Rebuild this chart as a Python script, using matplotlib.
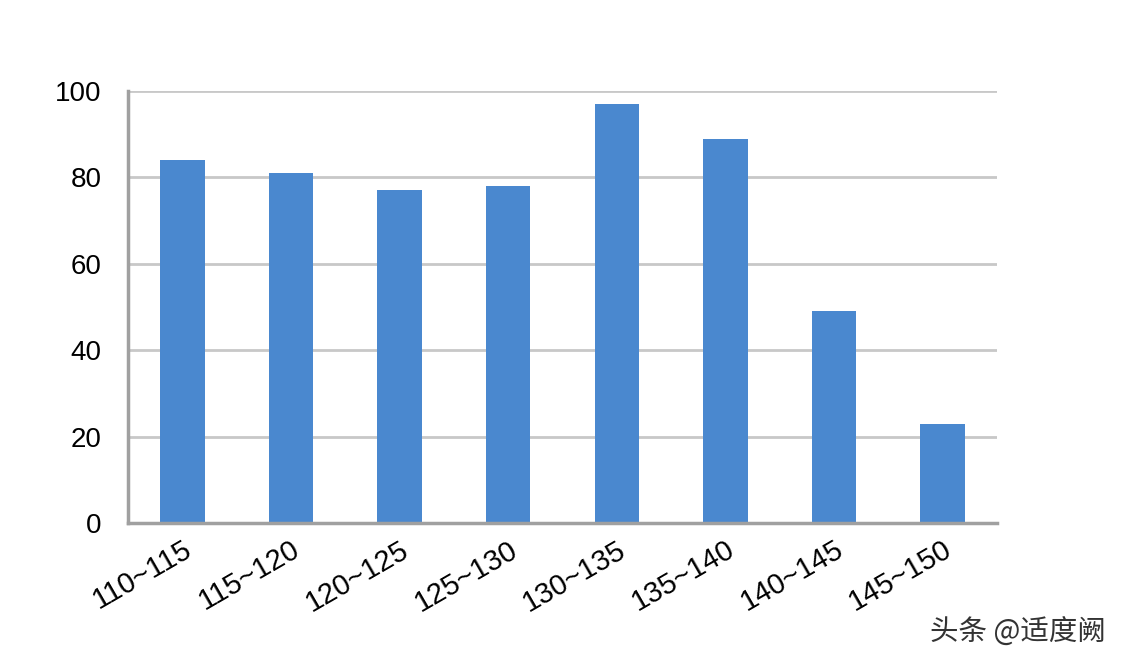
import matplotlib.pyplot as plt

categories = ['110~115', '115~120', '120~125', '125~130',
              '130~135', '135~140', '140~145', '145~150']
values = [84, 81, 77, 78, 97, 89, 49, 23]
yticks = [0, 20, 40, 60, 80, 100]

plt.rcParams['font.family'] = ['Liberation Sans', 'DejaVu Sans']

fig = plt.figure(figsize=(11.25, 6.68), dpi=100)
ax = fig.add_axes([0.1138, 0.2171, 0.7724, 0.6467])

x = list(range(len(categories)))
ax.bar(x, values, width=0.41, color='#4a88cf', zorder=3)

ax.set_xlim(-0.5, len(categories) - 0.5)
ax.set_ylim(0, 100)
ax.set_yticks(yticks)
ax.set_yticklabels([str(v) for v in yticks], fontsize=20)
ax.yaxis.grid(True, color='#c8c8c8', linewidth=2, zorder=0)
ax.tick_params(axis='y', length=0, pad=19)
ax.tick_params(axis='x', length=0, pad=9)

ax.set_xticks(x)
ax.set_xticklabels(categories, fontsize=21, rotation=30, ha='right',
                   rotation_mode='anchor')

for s in ['top', 'right']:
    ax.spines[s].set_visible(False)
for s in ['left', 'bottom']:
    ax.spines[s].set_color('#a0a0a0')
    ax.spines[s].set_linewidth(2.5)
    ax.spines[s].set_zorder(4)

fig.text(0.983, 0.052, '头条 @适度阙', fontsize=20.5, color='#333333',
         ha='right', va='center',
         family=['Noto Sans CJK SC', 'DejaVu Sans'])

fig.savefig('out.png', dpi=100, facecolor='white')
